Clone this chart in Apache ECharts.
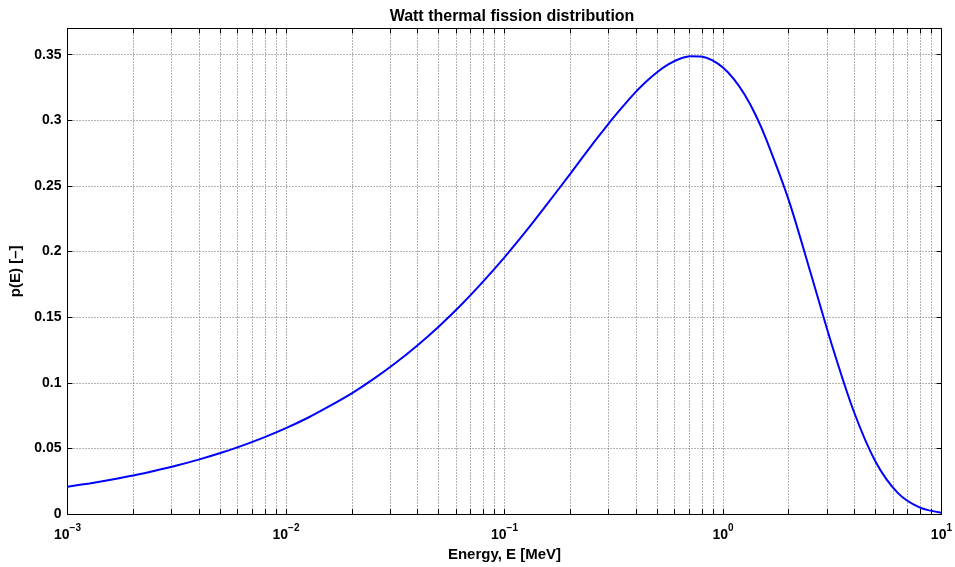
<!DOCTYPE html>
<html><head><meta charset="utf-8">
<script src="https://cdn.jsdelivr.net/npm/echarts@6/dist/echarts.min.js"></script>
<style>html,body{margin:0;padding:0;background:#fff}#c{width:955px;height:567px}</style>
</head><body><div id="c"></div>
<script>
// Energy [MeV] and p(E)
const energy = [0.001, 0.00126, 0.00158, 0.002, 0.00251, 0.00316, 0.00398, 0.00501, 0.00631, 0.00794,
                0.01, 0.0126, 0.0158, 0.02, 0.0251, 0.0316, 0.0398, 0.0501, 0.0631, 0.0794,
                0.1, 0.126, 0.158, 0.2, 0.251, 0.282, 0.316, 0.355, 0.398, 0.447, 0.501, 0.562, 0.631, 0.708, 0.794, 0.891,
                1, 1.122, 1.26, 1.413, 1.58, 2, 2.51, 3.16, 3.98, 5.01, 6.31, 7.94, 10];
const prob   = [0.0209, 0.0234, 0.0262, 0.0294, 0.0330, 0.0370, 0.0415, 0.0465, 0.0522, 0.0585,
                0.0655, 0.0734, 0.0822, 0.0920, 0.1028, 0.1149, 0.1283, 0.1430, 0.1591, 0.1767,
                0.1956, 0.2159, 0.2369, 0.2593, 0.2811, 0.2919, 0.3023, 0.3122, 0.3215, 0.3298, 0.3369, 0.3427, 0.3468, 0.3489, 0.3486, 0.3459,
                0.3402, 0.3314, 0.3193, 0.3039, 0.2853, 0.2392, 0.1847, 0.1283, 0.0778, 0.0395, 0.0162, 0.0051, 0.0011];
const xLabelTicks = [0.001, 0.01, 0.1, 1, 10];
const xGridTicks = [0.001,0.002,0.003,0.004,0.005,0.006,0.007,0.008,0.009,
                    0.01,0.02,0.03,0.04,0.05,0.06,0.07,0.08,0.09,
                    0.1,0.2,0.3,0.4,0.5,0.6,0.7,0.8,0.9,
                    1,2,3,4,5,6,7,8,9,10];
const yTickLabels = ['0','0.05','0.1','0.15','0.2','0.25','0.3','0.35'];

const FONT = '"Liberation Sans", Arial, Helvetica, sans-serif';
const gridLine = {show: true, lineStyle: {color: '#666', width: 1, type: [1, 2]}};

const chart = echarts.init(document.getElementById('c'), null, {renderer: 'canvas'});
chart.setOption({
  animation: false,
  backgroundColor: '#fff',
  title: {
    text: 'Watt thermal fission distribution',
    left: 507, top: 4, textAlign: 'center',
    textStyle: {fontFamily: FONT, fontSize: 16, fontWeight: 'bold', color: '#000'}
  },
  grid: {left: 67.5, right: 8.3, top: 28.5, bottom: 46, containLabel: false},
  xAxis: [{
    type: 'log', logBase: 10, min: 0.001, max: 10,
    name: 'Energy, E [MeV]', nameLocation: 'middle', nameGap: 27,
    nameTextStyle: {fontFamily: FONT, fontSize: 15, fontWeight: 'bold', color: '#000'},
    axisLine: {show: true, onZero: false, lineStyle: {color: '#000', width: 1}},
    axisTick: {show: true, inside: true, length: 5, customValues: xGridTicks, lineStyle: {color: '#000'}},
    minorTick: {show: false},
    splitLine: gridLine,
    axisLabel: {
      customValues: xLabelTicks, margin: 8, showMaxLabel: true, showMinLabel: true,
      formatter: v => '{b|10}{s|' + String(Math.round(Math.log10(v))).replace('-', '\u2212') + '}',
      rich: {
        b: {fontFamily: FONT, fontSize: 14, fontWeight: 'bold', color: '#000', verticalAlign: 'bottom', lineHeight: 20},
        s: {fontFamily: FONT, fontSize: 10, fontWeight: 'bold', color: '#000', verticalAlign: 'bottom', lineHeight: 20, padding: [0, 0, 9, 0]}
      }
    }
  }, {
    type: 'log', logBase: 10, min: 0.001, max: 10, position: 'top',
    axisLine: {show: true, onZero: false, lineStyle: {color: '#000', width: 1}},
    axisTick: {show: true, inside: true, length: 5, customValues: xGridTicks, lineStyle: {color: '#000'}},
    axisLabel: {show: false}, splitLine: {show: false}
  }],
  yAxis: [{
    type: 'value', min: 0, max: 0.37, interval: 0.05,
    name: 'p(E) [\u2013]', nameLocation: 'middle', nameGap: 39, nameRotate: 90,
    nameTextStyle: {fontFamily: FONT, fontSize: 15, fontWeight: 'bold', color: '#000'},
    axisLine: {show: true, onZero: false, lineStyle: {color: '#000', width: 1}},
    axisTick: {show: true, inside: true, length: 5, lineStyle: {color: '#000'}},
    splitLine: gridLine,
    axisLabel: {
      margin: 6, fontFamily: FONT, fontSize: 14, fontWeight: 'bold', color: '#000',
      showMaxLabel: false,
      formatter: v => yTickLabels[Math.round(v / 0.05)] || ''
    }
  }, {
    type: 'value', min: 0, max: 0.37, interval: 0.05, position: 'right',
    axisLine: {show: true, onZero: false, lineStyle: {color: '#000', width: 1}},
    axisTick: {show: true, inside: true, length: 5, lineStyle: {color: '#000'}},
    axisLabel: {show: false}, splitLine: {show: false}
  }],
  series: [{
    type: 'line',
    xAxisIndex: 0, yAxisIndex: 0,
    data: energy.map((e, i) => [e, prob[i]]),
    showSymbol: false, smooth: 0.3,
    lineStyle: {color: '#0000ff', width: 2},
    itemStyle: {color: '#0000ff'},
    z: 5
  }]
});
</script></body></html>
